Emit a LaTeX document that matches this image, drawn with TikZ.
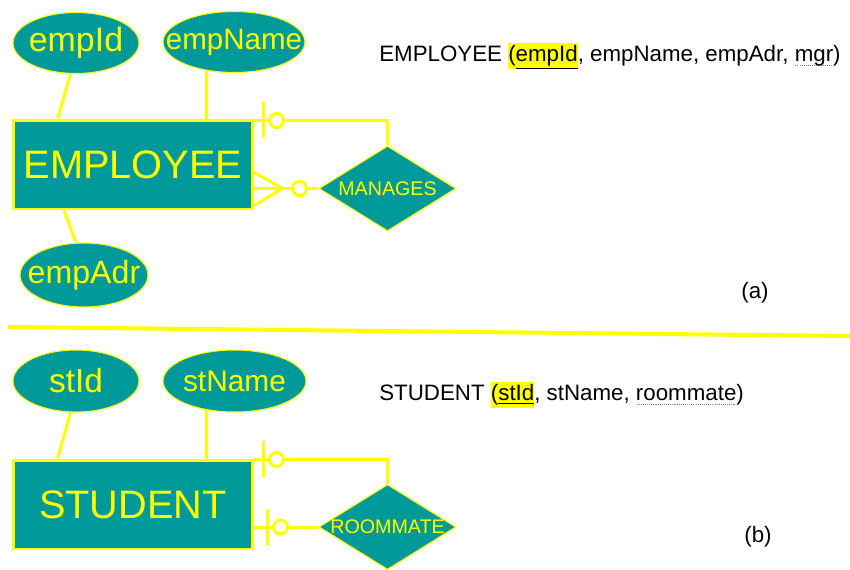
\documentclass[tikz,border=0pt]{standalone}
\usepackage{fontspec}
\setmainfont{Liberation Sans}
\usetikzlibrary{shapes.geometric, calc}
\definecolor{ErTeal}{RGB}{0, 153, 153}
\definecolor{ErYellow}{RGB}{255, 255, 0}
% primary key: highlighted and underlined
\newcommand{\keyattr}[1]{{\setlength{\fboxsep}{0pt}\colorbox{ErYellow}{\strut(\underline{#1}}}}
% foreign key: fine grey dotted underline
\newsavebox{\fkbox}
\newcommand{\fkattr}[1]{\sbox{\fkbox}{#1}\rlap{\lower2.6pt\hbox to \wd\fkbox{\color{gray}\leaders\hbox to 1.2pt{\hss\rule{0.6pt}{0.4pt}\hss}\hfill}}\usebox{\fkbox}}

\begin{document}
\begin{tikzpicture}[x=0.02cm, y=-0.02cm,
    attr/.style 2 args={ellipse, draw=ErYellow, line width=0.6pt, fill=ErTeal, inner sep=0pt,
      label={[text=ErYellow, font=\fontsize{#2}{#2}\selectfont]center:#1}},
    entity/.style={rectangle, draw=ErYellow, line width=1.7pt, fill=ErTeal, text=ErYellow,
      minimum width=4.8cm, minimum height=1.78cm, font=\fontsize{22.6}{26}\selectfont},
    rel/.style={diamond, draw=ErYellow, line width=0.6pt, fill=ErTeal, inner sep=0pt,
      minimum width=2.74cm, minimum height=1.7cm,
      label={[text=ErYellow, font=\fontsize{11.2}{13}\selectfont]center:#1}},
    conn/.style={draw=ErYellow, line width=1.7pt},
    ring/.style={draw=ErYellow, line width=1.7pt, fill=white},
    schema/.style={anchor=west, inner sep=0pt, font=\fontsize{12.7}{15}\selectfont}]
    \useasboundingbox (0,0) rectangle (850,569);

    % (a) employee with recursive manages
    \node[attr={empId}{19.3}, minimum width=2.52cm, minimum height=1.22cm] (empid) at (76,43) {};
    \node[attr={empName}{16.8}, minimum width=2.84cm, minimum height=1.22cm] (empname) at (234,42) {};
    \node[entity] (employee) at (133,164.5) {EMPLOYEE};
    \node[attr={empAdr}{18.3}, minimum width=2.56cm, minimum height=1.28cm] (empadr) at (84,275) {};
    \node[rel={MANAGES}] (manages) at (387.5,188.5) {};

    \draw[conn] (empid.-100) -- ($(employee.north west)!0.19!(employee.north east)$);
    \draw[conn] (empname.-134) -- (empname.-134 |- employee.north);
    \draw[conn] (empadr.104) -- ($(employee.south west)!0.217!(employee.south east)$);

    % one side: bar and ring
    \draw[conn] ($(employee.north east)+(0,2)$) -| (manages.north);
    \draw[conn] ($(employee.north east)+(9,-17)$) -- ++(0,35);
    \draw[ring] ($(employee.north east)+(22,2)$) circle[radius=0.14cm];
    % many side: crow's foot and ring
    \draw[conn] (manages.west) -- (manages.west -| employee.east);
    \coordinate (foot) at ($(manages.west)+(-36,0)$);
    \draw[conn] ($(foot -| employee.east)+(0,-16)$) -- (foot) -- ($(foot -| employee.east)+(0,17)$);
    \draw[ring] ($(manages.west)+(-19,0)$) circle[radius=0.14cm];

    \node[schema] (empschema) at (379,56) {EMPLOYEE \keyattr{empId}, empName, empAdr, \fkattr{mgr})};
    \node[font=\fontsize{12.7}{15}\selectfont] (taga) at (755,293) {(a)};

    % separator
    \draw[conn, line width=2.3pt] (8,327) -- (850,336);

    % (b) student with recursive roommate
    \node[attr={stId}{19}, minimum width=2.52cm, minimum height=1.24cm] (stid) at (76,381) {};
    \node[attr={stName}{17}, minimum width=2.86cm, minimum height=1.24cm] (stname) at (234.5,381) {};
    \node[entity] (student) at (133,504.5) {STUDENT};
    \node[rel={ROOMMATE}] (roommate) at (387.5,527) {};

    \draw[conn] (stid.-100) -- ($(student.north west)!0.19!(student.north east)$);
    \draw[conn] (stname.-134) -- (stname.-134 |- student.north);

    \draw[conn] ($(student.north east)+(0,1)$) -| (roommate.north);
    \draw[conn] ($(student.north east)+(9,-18)$) -- ++(0,36);
    \draw[ring] ($(student.north east)+(22,1)$) circle[radius=0.14cm];
    \draw[conn] (roommate.west) -- (roommate.west -| student.east);
    \draw[conn] ($(roommate.west -| student.east)+(13,-17)$) -- ++(0,35);
    \draw[ring] ($(roommate.west -| student.east)+(26,0)$) circle[radius=0.14cm];

    \node[schema] (stschema) at (379,395) {STUDENT \keyattr{stId}, stName, \fkattr{roommate})};
    \node[font=\fontsize{12.7}{15}\selectfont] (tagb) at (758,537) {(b)};
\end{tikzpicture}
\end{document}
